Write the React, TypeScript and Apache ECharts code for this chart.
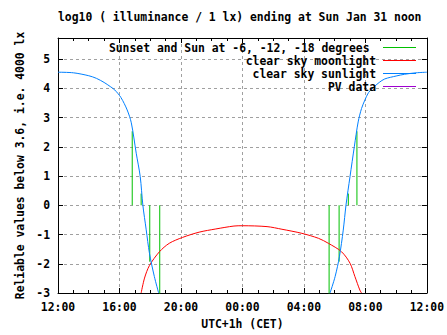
import React, { useEffect, useRef } from "react";
import * as echarts from "echarts";

// hours since Sat 12:00 (CET)
const blueEveningH = [0, 1.0, 2.0, 2.5, 3.0, 3.4, 3.7, 4.1, 4.5, 4.77, 5.09, 5.35, 5.52, 5.74, 5.95, 6.27, 6.55];
const blueEveningV = [4.55, 4.53, 4.43, 4.34, 4.2, 4.06, 3.94, 3.68, 3.26, 2.82, 1.78, 0.98, 0.01, -0.84, -1.64, -2.44, -3.0];
const blueMorningH = [17.7, 18.03, 18.31, 18.56, 18.74, 19.0, 19.28, 19.53, 19.75, 19.97, 20.2, 20.5, 20.9, 21.26, 22.0, 22.55, 23.3, 24];
const blueMorningV = [-3, -2.44, -1.76, -0.85, 0.01, 0.98, 2.0, 2.85, 3.31, 3.6, 3.85, 4.02, 4.2, 4.32, 4.42, 4.48, 4.53, 4.55];

const redH = [5.41, 5.63, 5.95, 6.6, 7.24, 8.1, 9.18, 10.27, 11.45, 11.99, 13.6, 14.57, 15.87, 16.95, 17.59, 18.45, 19.0, 19.32, 19.64, 19.75];
const redV = [-3, -2.49, -2.06, -1.59, -1.3, -1.1, -0.92, -0.81, -0.71, -0.7, -0.73, -0.82, -0.96, -1.13, -1.3, -1.59, -1.98, -2.44, -2.9, -3];

// Sunset/sunrise and sun at -6, -12, -18 degrees
const sunEventH = [4.83, 5.41, 5.97, 6.62, 17.64, 18.29, 18.89, 19.45];
const sunEventV = [2.53, 0.4, -1.93, -3.4, -3.4, -1.93, 0.4, 2.53];

const pvH: number[] = [];
const pvV: number[] = [];

const seriesNames = [
  "Sunset and Sun at -6, -12, -18 degrees",
  "clear sky moonlight",
  "clear sky sunlight",
  "PV data",
];
const seriesColors = ["#00c000", "#ff0000", "#0080ff", "#a000d0"];

const FONT = "DejaVu Sans Mono";
const FS = 11.4;

const fmtHour = (h: number) => {
  const hh = (12 + Math.round(h)) % 24;
  return (hh < 10 ? "0" : "") + hh + ":00";
};

export default function App() {
  const ref = useRef<HTMLDivElement>(null);
  useEffect(() => {
    if (!ref.current) return;
    const chart = echarts.init(ref.current, null, { renderer: "svg" });
    const blueData: any[] = [
      ...blueEveningH.map((h, i) => [h, blueEveningV[i]]),
      "-",
      ...blueMorningH.map((h, i) => [h, blueMorningV[i]]),
    ];
    const greenData: any[] = [];
    sunEventH.forEach((h, i) => {
      greenData.push([h, 0]);
      greenData.push([h, sunEventV[i]]);
      greenData.push("-");
    });
    const labelStyle = { fontFamily: FONT, fontWeight: "bold" as const, fontSize: FS, color: "#000" };
    const legendGraphics: any[] = [];
    const rowY = [47.5, 60.5, 73.5, 86.5];
    const textRight = [369.5, 376, 376, 376];
    seriesNames.forEach((n, i) => {
      legendGraphics.push({
        type: "text",
        x: textRight[i],
        y: rowY[i],
        style: { text: n, textAlign: "right", textVerticalAlign: "middle", font: `bold ${FS}px "${FONT}"`, fill: "#000" },
        z: 100,
      });
      legendGraphics.push({
        type: "line",
        shape: { x1: 383, y1: rowY[i], x2: 416, y2: rowY[i] },
        style: { stroke: seriesColors[i], lineWidth: 1 },
        z: 100,
      });
    });
    const splitLineStyle = { color: "#a0a0a0", type: [3, 3] as any, width: 1 };
    const axisLine = { show: true, onZero: false, lineStyle: { color: "#000", width: 1 } };
    chart.setOption({
      animation: false,
      title: {
        text: "log10 ( illuminance / 1 lx) ending at Sun Jan 31 noon",
        left: 58,
        top: 11,
        padding: 0,
        textStyle: { ...labelStyle },
      },
      grid: { left: 58, right: 18, top: 38, bottom: 42, containLabel: false },
      xAxis: [
        {
          type: "value",
          position: "bottom",
          min: 0,
          max: 24,
          interval: 4,
          name: "UTC+1h (CET)",
          nameLocation: "middle",
          nameGap: 25,
          nameTextStyle: { ...labelStyle },
          axisLine,
          axisTick: { inside: true, length: 5, lineStyle: { color: "#000" } },
          minorTick: { show: true, splitNumber: 4, length: 3, lineStyle: { color: "#000" } },
          axisLabel: { ...labelStyle, margin: 8, formatter: fmtHour },
          splitLine: { show: true, lineStyle: splitLineStyle },
        },
        {
          type: "value",
          position: "top",
          min: 0,
          max: 24,
          interval: 4,
          axisLine,
          axisTick: { inside: true, length: 5, lineStyle: { color: "#000" } },
          minorTick: { show: true, splitNumber: 4, length: 3, lineStyle: { color: "#000" } },
          axisLabel: { show: false },
          splitLine: { show: false },
        },
      ],
      yAxis: [
        {
          type: "value",
          position: "left",
          min: -3,
          max: 5.72,
          interval: 1,
          name: "Reliable values below 3.6, i.e. 4000 lx",
          nameLocation: "middle",
          nameGap: 25,
          nameTextStyle: { ...labelStyle },
          axisLine,
          axisTick: { inside: true, length: 5, lineStyle: { color: "#000" } },
          axisLabel: { ...labelStyle, margin: 8, showMaxLabel: false },
          splitLine: { show: true, lineStyle: splitLineStyle },
        },
        {
          type: "value",
          position: "right",
          min: -3,
          max: 5.72,
          interval: 1,
          axisLine,
          axisTick: { inside: true, length: 5, lineStyle: { color: "#000" } },
          axisLabel: { show: false },
          splitLine: { show: false },
        },
      ],
      graphic: legendGraphics,
      series: [
        {
          name: seriesNames[0],
          type: "line",
          data: greenData,
          showSymbol: false,
          connectNulls: false,
          lineStyle: { color: seriesColors[0], width: 1 },
          itemStyle: { color: seriesColors[0] },
          clip: true,
        },
        {
          name: seriesNames[1],
          type: "line",
          data: redH.map((h, i) => [h, redV[i]]),
          showSymbol: false,
          smooth: 0.3,
          lineStyle: { color: seriesColors[1], width: 1 },
          itemStyle: { color: seriesColors[1] },
          clip: true,
        },
        {
          name: seriesNames[2],
          type: "line",
          data: blueData,
          showSymbol: false,
          smooth: 0.3,
          connectNulls: false,
          lineStyle: { color: seriesColors[2], width: 1 },
          itemStyle: { color: seriesColors[2] },
          clip: true,
        },
        {
          name: seriesNames[3],
          type: "line",
          data: pvH.map((h, i) => [h, pvV[i]]),
          showSymbol: false,
          lineStyle: { color: seriesColors[3], width: 1 },
        },
      ],
    });
    return () => chart.dispose();
  }, []);
  return <div ref={ref} style={{ position: "absolute", left: 0, top: 0, width: 447, height: 335, background: "#fff" }} />;
}
